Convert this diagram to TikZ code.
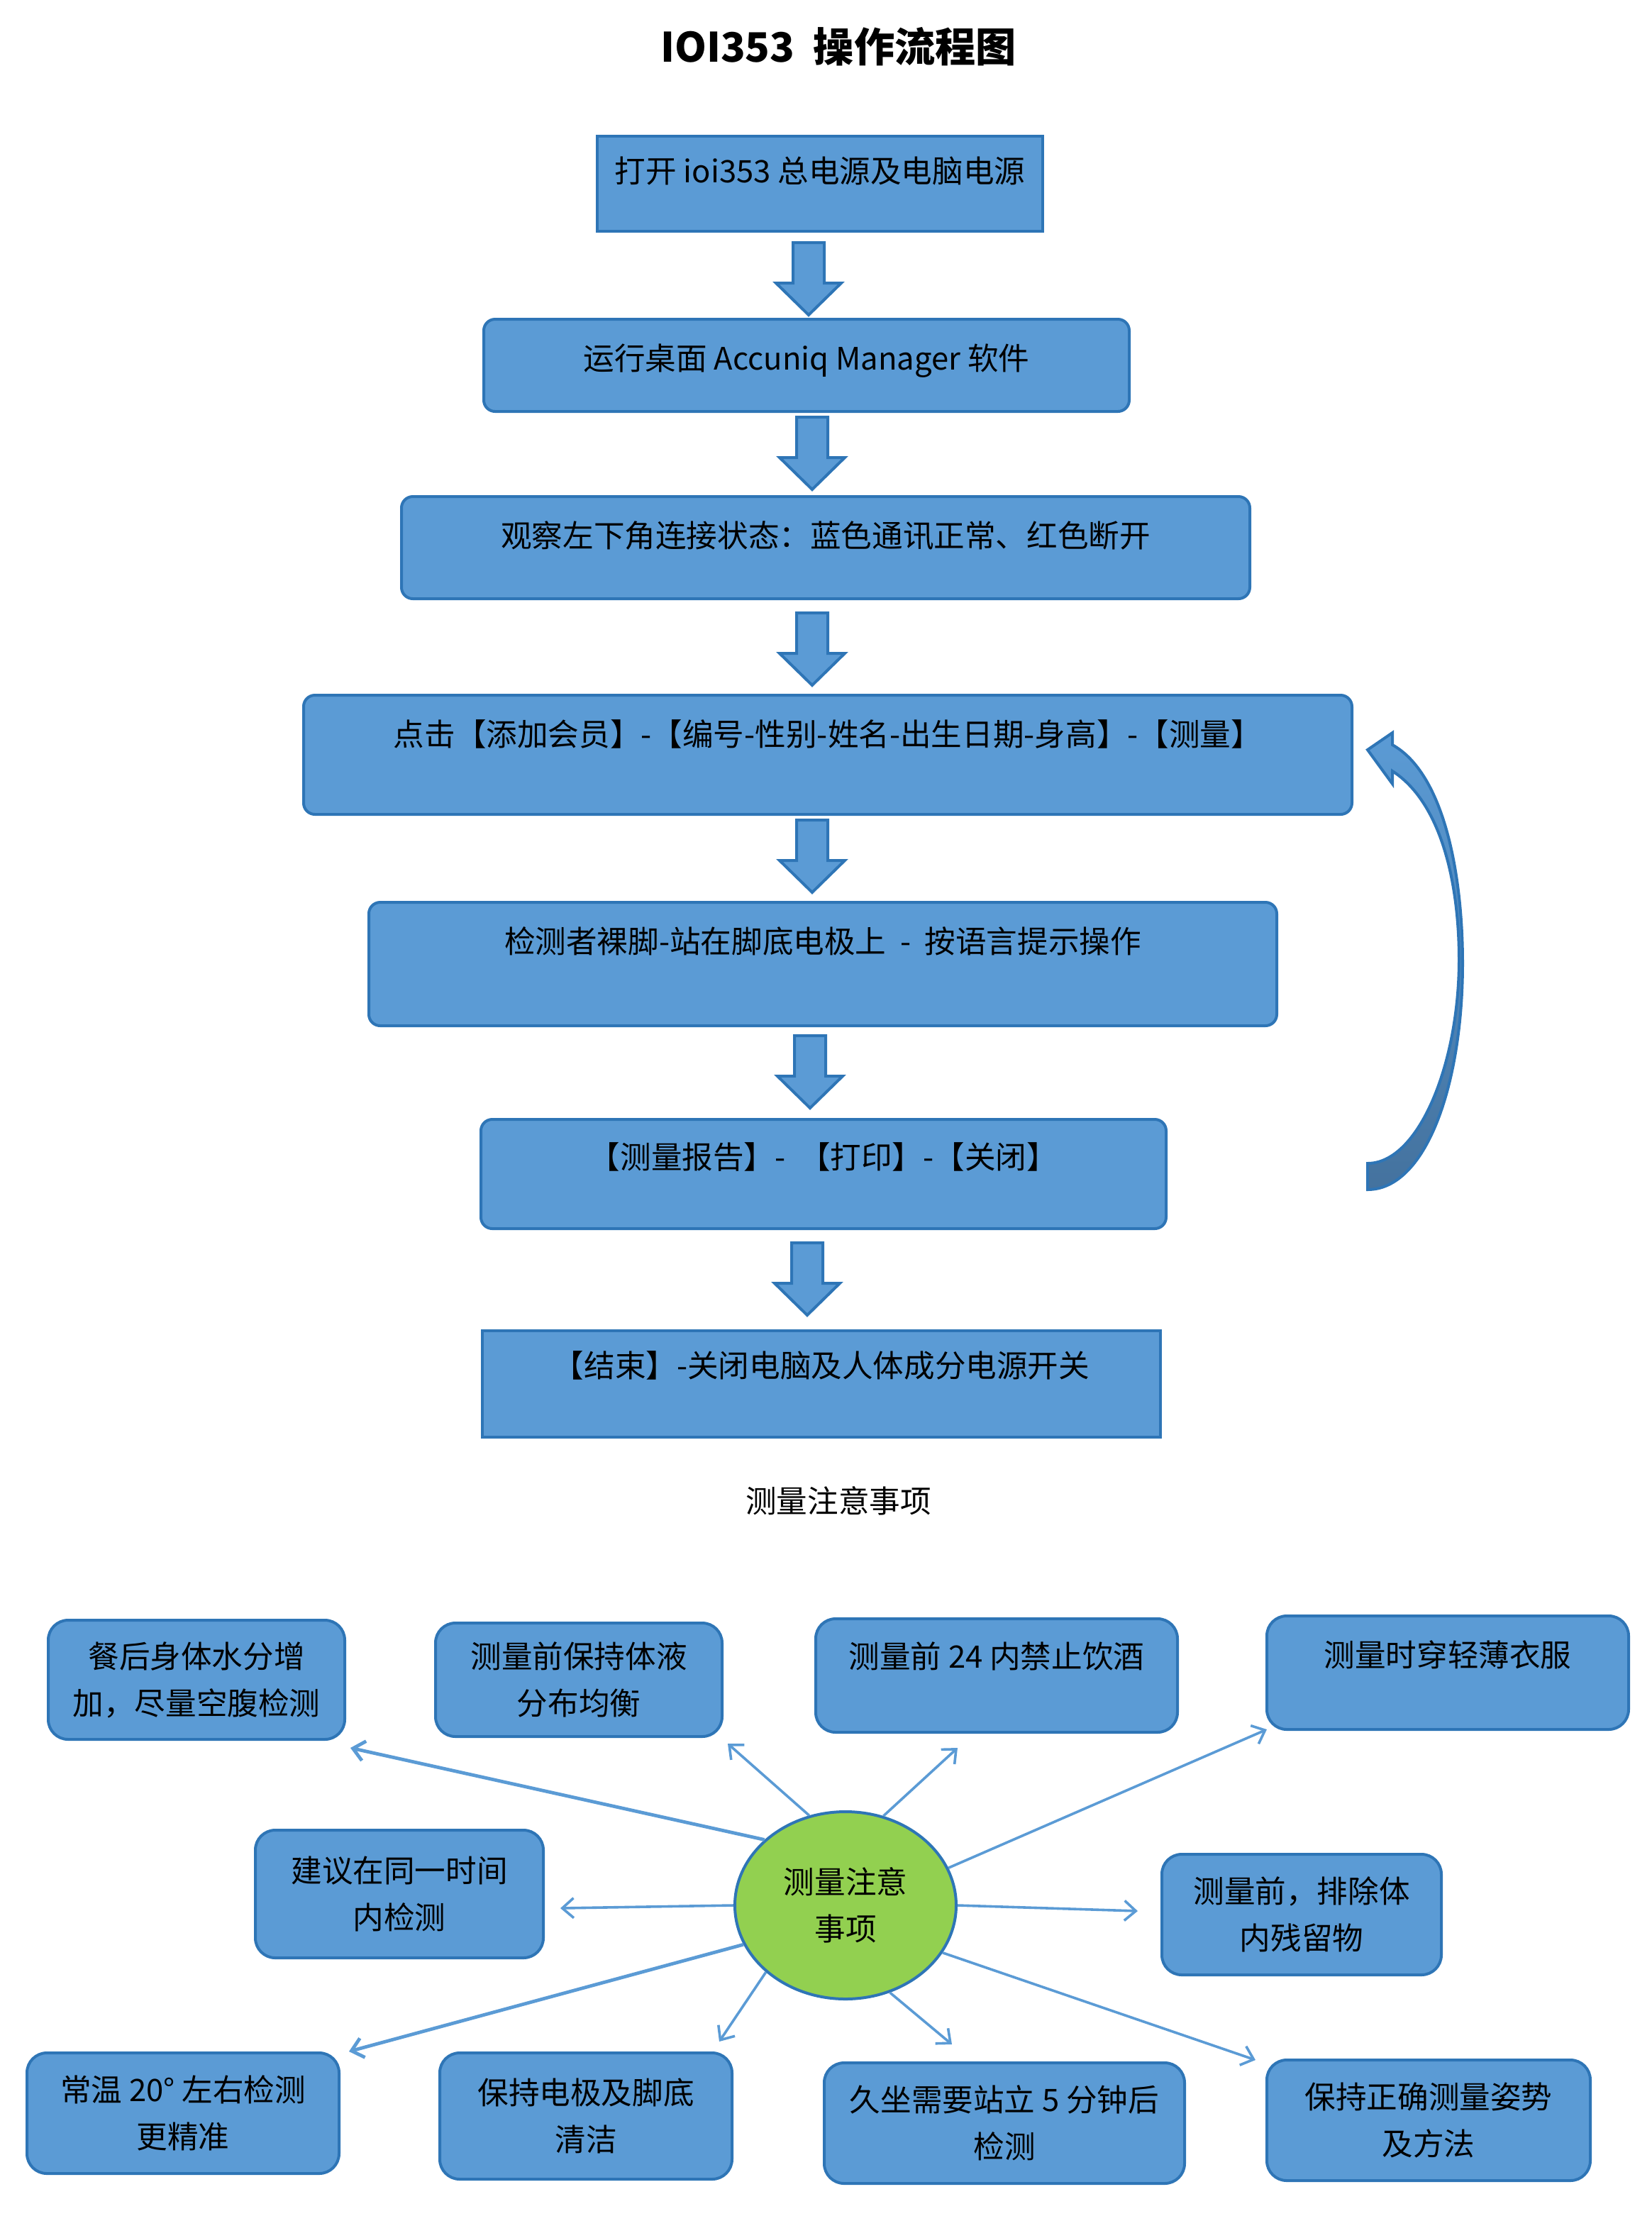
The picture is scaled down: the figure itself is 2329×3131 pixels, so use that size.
\documentclass[tikz,border=0pt]{standalone}
\usepackage{fontspec}
\setmainfont{Noto Sans CJK SC}
\usetikzlibrary{arrows.meta,shapes.geometric}
\definecolor{boxblue}{HTML}{5B9BD5}
\definecolor{edgeblue}{HTML}{2E75B6}
\definecolor{darkblue}{HTML}{44729E}
\definecolor{notegreen}{HTML}{92D050}

\begin{document}
\begin{tikzpicture}[x=0.25pt,y=-0.25pt,
    stepbox/.style={draw=edgeblue,fill=boxblue,line width=1pt,inner sep=2pt,
      font=\fontsize{10.9}{16.5}\selectfont},
    roundbox/.style={stepbox,rounded corners=4pt},
    tipbox/.style={stepbox,rounded corners=7pt,align=center},
    onerow/.style={text height=8pt,text depth=#1},
    blockarrow/.style={draw=edgeblue,fill=boxblue,line width=1pt},
    spoke/.style={draw=boxblue,line width=0.9pt,-{Straight Barb[length=4pt,width=7pt]}}]
  \useasboundingbox (0,0) rectangle (2329,3131);

  % title
  \node[font=\fontsize{14.3}{17}\selectfont\bfseries] (title) at (1182,66) {IOI353\ \ 操作流程图};

  % flow boxes
  \node[stepbox,minimum width=157pt,minimum height=33.5pt,onerow=8.8pt] (power) at (1156,259) {打开 ioi353 总电源及电脑电源};
  \node[roundbox,minimum width=227.5pt,minimum height=32.5pt,onerow=4.8pt] (launch) at (1137,515) {运行桌面 Accuniq Manager 软件};
  \node[roundbox,minimum width=299pt,minimum height=36pt,onerow=8.3pt] (status) at (1164,772) {观察左下角连接状态：蓝色通讯正常、红色断开};
  \node[roundbox,minimum width=369.5pt,minimum height=42pt,onerow=14.3pt] (member) at (1167,1064) {点击【添加会员】-【编号-性别-姓名-出生日期-身高】-【测量】};
  \node[roundbox,minimum width=320pt,minimum height=43.5pt,onerow=15.8pt] (stand) at (1160,1359) {检测者裸脚-站在脚底电极上\ \ -\ \ 按语言提示操作};
  \node[roundbox,minimum width=241.5pt,minimum height=38.5pt,onerow=11.8pt] (report) at (1161,1655) {【测量报告】-\ \ 【打印】-【关闭】};
  \node[stepbox,minimum width=239pt,minimum height=37.5pt,onerow=12.8pt] (finish) at (1158,1951) {【结束】-关闭电脑及人体成分电源开关};

  % block arrows between the boxes
  \foreach \x/\y in {1140/342,1145/588,1145/864,1145/1156,1142/1460,1138/1752}
    \filldraw[blockarrow] ({\x-22},\y) -- ({\x+22},\y) -- ({\x+22},{\y+57}) -- ({\x+46},{\y+57})
      -- (\x,{\y+102}) -- ({\x-46},{\y+57}) -- ({\x-22},{\y+57}) -- cycle;

  % curved return arrow
  \shadedraw[draw=edgeblue,line width=1pt,top color=boxblue,bottom color=darkblue]
    (1963,1050) .. controls (2035,1090) and (2062,1230) .. (2062,1358)
    .. controls (2062,1530) and (2010,1677) .. (1928,1677) -- (1928,1640)
    .. controls (2000,1640) and (2057,1500) .. (2057,1353)
    .. controls (2057,1240) and (2030,1130) .. (1963,1087)
    -- (1963,1105) -- (1928,1057) -- (1963,1033) -- cycle;

  \node[font=\fontsize{10.9}{16.5}\selectfont] (heading) at (1182,2116) {测量注意事项};

  % notes
  \node[ellipse,draw=edgeblue,fill=notegreen,line width=1pt,minimum width=78pt,minimum height=66pt,
    inner sep=0pt,align=center,font=\fontsize{10.9}{16.5}\selectfont] (note) at (1192,2686) {测量注意\\事项};

  \node[tipbox,minimum width=104.5pt,minimum height=42pt] (meal) at (277,2368) {餐后身体水分增\\加，尽量空腹检测};
  \node[tipbox,minimum width=101pt,minimum height=40pt] (fluid) at (816,2368) {测量前保持体液\\分布均衡};
  \node[tipbox,minimum width=127.5pt,minimum height=40pt,onerow=13.3pt] (alcohol) at (1405,2362) {测量前 24 内禁止饮酒};
  \node[tipbox,minimum width=127.5pt,minimum height=40pt,onerow=12.3pt] (clothes) at (2041,2358) {测量时穿轻薄衣服};
  \node[tipbox,minimum width=101.5pt,minimum height=45pt] (sametime) at (563,2670) {建议在同一时间\\内检测};
  \node[tipbox,minimum width=98.5pt,minimum height=42.5pt] (empty) at (1835,2699) {测量前，排除体\\内残留物};
  \node[tipbox,minimum width=110pt,minimum height=42.5pt] (temp) at (258,2979) {常温 20° 左右检测\\更精准};
  \node[tipbox,minimum width=103pt,minimum height=44.5pt] (clean) at (826,2983) {保持电极及脚底\\清洁};
  \node[tipbox,minimum width=127pt,minimum height=42.5pt] (rest) at (1416,2993) {久坐需要站立 5 分钟后\\检测};
  \node[tipbox,minimum width=114pt,minimum height=42.5pt] (posture) at (2014,2989) {保持正确测量姿势\\及方法};

  \coordinate (t1) at (494,2464);
  \coordinate (t2) at (1026,2458);
  \coordinate (t3) at (1350,2464);
  \coordinate (t4) at (1786,2438);
  \coordinate (t5) at (790,2690);
  \coordinate (t6) at (1604,2694);
  \coordinate (t7) at (492,2892);
  \coordinate (t8) at (1014,2878);
  \coordinate (t9) at (1342,2882);
  \coordinate (t10) at (1770,2904);

  \draw[spoke,line width=1.2pt] (note.141) -- (t1);
  \draw[spoke] (note.112) -- (t2);
  \draw[spoke] (note.67) -- (t3);
  \draw[spoke] (note.20) -- (t4);
  \draw[spoke] (note.180) -- (t5);
  \draw[spoke] (note.0) -- (t6);
  \draw[spoke,line width=1.2pt] (note.201) -- (t7);
  \draw[spoke] (note.220) -- (t8);
  \draw[spoke] (note.297) -- (t9);
  \draw[spoke] (note.334) -- (t10);
\end{tikzpicture}
\end{document}
